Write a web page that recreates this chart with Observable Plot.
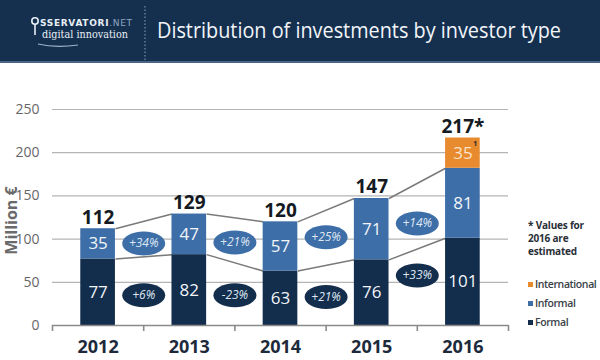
<!DOCTYPE html>
<html>
<head>
<meta charset="utf-8">
<script src="https://cdn.jsdelivr.net/npm/d3@7"></script>
<script src="https://cdn.jsdelivr.net/npm/@observablehq/plot@0.6"></script>
<style>
  html, body { margin: 0; padding: 0; background: #fff; }
  #wrap { position: relative; width: 600px; height: 360px; overflow: hidden; font-family: "Open Sans", sans-serif; }
  #header { position: absolute; left: 0; top: 0; width: 600px; height: 61px; background: #15304f; border-bottom: 2px solid #4a6686; }
  #title { position: absolute; left: 157px; top: 15px; font-family: "Open Sans", sans-serif; font-size: 22.5px; line-height: 30px; color: #f2f5f9; white-space: nowrap; transform-origin: 0 50%; }
  #chart { position: absolute; left: 0; top: 63px; }
  #chart svg { display: block; }
  #legend { position: absolute; left: 528px; top: 219px; font-family: "Open Sans", sans-serif; color: #2a2f38; }
  #legend .note { font-size: 10px; font-weight: 700; line-height: 13px; margin-bottom: 17px; letter-spacing: -0.2px; }
  #legend .item { font-size: 10.5px; font-weight: 600; line-height: 19px; white-space: nowrap; color: #3a3f48; letter-spacing: -0.4px; }
  #legend .sw { display: inline-block; width: 5px; height: 5px; margin-right: 2px; vertical-align: middle; position: relative; top: -1px; }
</style>
</head>
<body>
<div id="wrap">
  <div id="header">
    <svg width="600" height="61" style="position:absolute;left:0;top:0">
      <circle cx="35" cy="21" r="3.2" fill="none" stroke="#e8eef5" stroke-width="1.6"/>
      <line x1="35" y1="24" x2="35" y2="35" stroke="#e8eef5" stroke-width="1.6"/>
      <text x="40" y="25.5" font-family="DejaVu Sans" font-size="9" font-weight="700" fill="#e8eef5" textLength="92" lengthAdjust="spacing">SSERVATORI<tspan fill="#8fa6c2" font-weight="400">.NET</tspan></text>
      <text x="42" y="38" font-family="DejaVu Serif" font-size="11" fill="#e8eef5" textLength="86" lengthAdjust="spacingAndGlyphs">digital innovation</text>
      <path d="M38 44 Q 55 48 78 45" fill="none" stroke="#9fb3ca" stroke-width="1.2"/>
      <line x1="145" y1="6" x2="145" y2="61" stroke="#8fa3bb" stroke-width="1" stroke-dasharray="1.5 2"/>
    </svg>
    <div id="title">Distribution of investments by investor type</div>
  </div>
  <div id="chart"></div>
  <div id="legend"></div>
</div>
<script>
// ---- data ----
const years = ["2012", "2013", "2014", "2015", "2016"];
const formal = [77, 82, 63, 76, 101];
const informal = [35, 47, 57, 71, 81];
const international = [0, 0, 0, 0, 35];
const totalLabels = ["112", "129", "120", "147", "217*"];
const series = ["International", "Informal", "Formal"];
const seriesColors = ["#e88a2e", "#3d6ea8", "#132d4c"];
const informalGrowth = ["+34%", "+21%", "+25%", "+14%"];
const informalGrowthY = [95, 96, 102, 118];
const formalGrowth = ["+6%", "-23%", "+21%", "+33%"];
const formalGrowthY = [35, 35, 33, 58];
const footnoteText = "* Values for 2016 are estimated";

// fit the title to the reference width
const titleEl = document.getElementById("title");
const tw = titleEl.getBoundingClientRect().width;
titleEl.style.transform = `scaleX(${Math.min(1, 404 / tw)})`;

// ---- derived tables ----
const half = 0.19;
const segs = [];
years.forEach((yr, i) => {
  const parts = [["Formal", formal[i]], ["Informal", informal[i]], ["International", international[i]]];
  let base = 0;
  for (const [s, v] of parts) {
    if (v > 0) segs.push({i, series: s, y1: base, y2: base + v, value: v});
    base += v;
  }
});
const totals = years.map((yr, i) => ({i, y: formal[i] + informal[i] + international[i], label: totalLabels[i]}));
const links = [];
for (let i = 0; i < years.length - 1; i++) {
  links.push({x1: i + half, x2: i + 1 - half, y1: formal[i], y2: formal[i + 1]});
  links.push({x1: i + half, x2: i + 1 - half, y1: formal[i] + informal[i], y2: formal[i + 1] + informal[i + 1]});
}
const ellipses = [
  ...informalGrowth.map((t, i) => ({x: i + 0.5, y: informalGrowthY[i], text: t, series: "Informal"})),
  ...formalGrowth.map((t, i) => ({x: i + 0.5, y: formalGrowthY[i], text: t, series: "Formal"}))
];
const notes = segs.filter(d => d.series === "International");

const ellipseSymbol = {
  draw(ctx) {
    const rx = 21.5, ry = 12, k = 0.5523;
    ctx.moveTo(rx, 0);
    ctx.bezierCurveTo(rx, k * ry, k * rx, ry, 0, ry);
    ctx.bezierCurveTo(-k * rx, ry, -rx, k * ry, -rx, 0);
    ctx.bezierCurveTo(-rx, -k * ry, -k * rx, -ry, 0, -ry);
    ctx.bezierCurveTo(k * rx, -ry, rx, -k * ry, rx, 0);
    ctx.closePath();
  }
};

const betweenTicks = d3.range(-0.5, years.length, 1);

const chart = Plot.plot({
  width: 600,
  height: 297,
  marginLeft: 52,
  marginRight: 92,
  marginTop: 46,
  marginBottom: 35,
  style: {fontFamily: "Open Sans, sans-serif", background: "transparent"},
  x: {type: "linear", domain: [-0.5, years.length - 0.5], axis: null},
  y: {domain: [0, 250], axis: null},
  color: {domain: series, range: seriesColors},
  marks: [
    Plot.gridY([50, 100, 150, 200, 250], {stroke: "#b4b4b4", strokeOpacity: 1, strokeWidth: 1.2}),
    Plot.axisY([0, 50, 100, 150, 200, 250], {tickSize: 0, tickPadding: 13, fontSize: 14, fill: "#666", label: null}),
    Plot.text(["Million €"], {frameAnchor: "left", textAnchor: "middle", rotate: -90, dx: -41, dy: 3, fontSize: 16, fontWeight: 700, fill: "#6a6a6a"}),
    Plot.link(links, {x1: "x1", x2: "x2", y1: "y1", y2: "y2", stroke: "#7a7a7a", strokeWidth: 1.5}),
    Plot.rectY(segs, {x1: d => d.i - half, x2: d => d.i + half, y1: "y1", y2: "y2", fill: "series"}),
    Plot.text(segs, {x: "i", y: d => (d.y1 + d.y2) / 2, text: d => String(d.value), fill: d => d.series === "International" ? "#fbe3c8" : "#f2f5f9", fontSize: 17, fontWeight: 500}),
    Plot.text(notes, {x: d => d.i + half, y: "y2", text: () => "1", dx: -5, dy: 6, fontSize: 7, fontWeight: 700, fill: "#2a2a2a"}),
    Plot.text(totals, {x: "i", y: "y", text: "label", lineAnchor: "bottom", dy: -5, fontSize: 19, fontWeight: 700, fill: "#141a22"}),
    Plot.dot(ellipses, {x: "x", y: "y", symbol: ellipseSymbol, fill: "series", stroke: "none"}),
    Plot.text(ellipses, {x: "x", y: "y", text: "text", fill: "#dfe7f2", fontSize: 12, fontStyle: "italic"}),
    Plot.ruleY([0], {stroke: "#8a8a8a", strokeWidth: 1.6}),
    Plot.axisX(betweenTicks, {tickSize: 6, tickFormat: () => "", stroke: "#8a8a8a", strokeWidth: 1.6}),
    Plot.axisX(d3.range(years.length), {tickSize: 0, tickPadding: 15, tickFormat: i => years[i], fontSize: 18, fontWeight: 700, fill: "#1d2a3c", label: null})
  ]
});
document.getElementById("chart").appendChild(chart);

// legend (HTML, beside the chart)
const legend = document.getElementById("legend");
const note = document.createElement("div");
note.className = "note";
note.innerHTML = footnoteText.replace(" 2016", "<br>2016").replace(" estimated", "<br>estimated");
legend.appendChild(note);
series.forEach((s, k) => {
  const it = document.createElement("div");
  it.className = "item";
  const sw = document.createElement("span");
  sw.className = "sw";
  sw.style.background = seriesColors[k];
  it.appendChild(sw);
  it.appendChild(document.createTextNode(s));
  legend.appendChild(it);
});
</script>
</body>
</html>
